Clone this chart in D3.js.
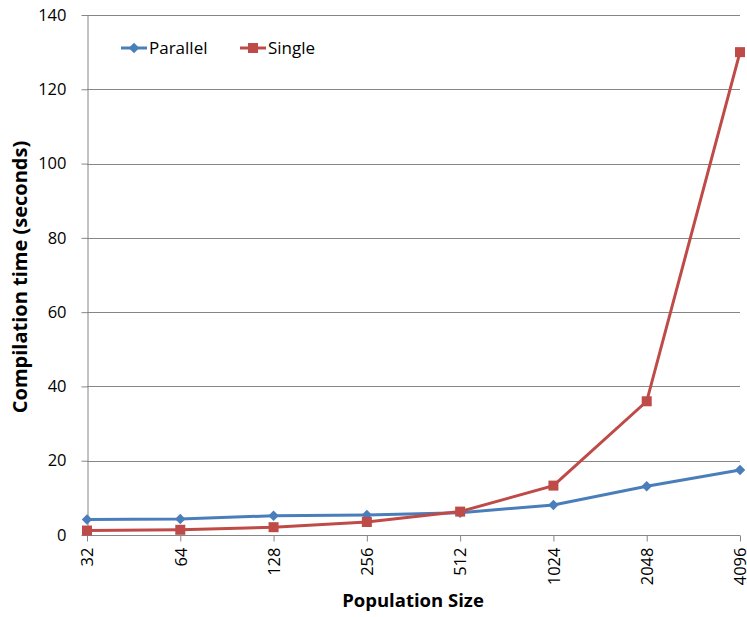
<!DOCTYPE html>
<html>
<head>
<meta charset="utf-8">
<script src="https://cdn.jsdelivr.net/npm/d3@7"></script>
<style>
body { margin:0; background:#fff; }
svg text { font-family: "Open Sans", "Liberation Sans", sans-serif; fill:#000; }
</style>
</head>
<body>
<div id="chart"></div>
<script>
var sizes = ["32", "64", "128", "256", "512", "1024", "2048", "4096"];
var parallel = [4.2, 4.3, 5.2, 5.4, 6.0, 8.1, 13.1, 17.5];
var single = [1.2, 1.4, 2.1, 3.5, 6.3, 13.3, 36.0, 130];
var yTicks = [0, 20, 40, 60, 80, 100, 120, 140];

var width = 747, height = 617;
var padding = {left:87, right:7, top:15, bottom:82};

var svg = d3.select("#chart")
	.append("svg")
	.attr("width", width)
	.attr("height", height);

var xScale = d3.scalePoint()
	.domain(sizes)
	.range([padding.left, width - padding.right]);

var yScale = d3.scaleLinear()
	.domain([0, 140])
	.range([height - padding.bottom, padding.top]);

// grid lines
svg.append("g")
	.selectAll("line")
	.data(yTicks.slice(1))
	.enter()
	.append("line")
	.attr("x1", padding.left)
	.attr("x2", width - padding.right)
	.attr("y1", function(d){ return Math.round(yScale(d)) + 0.5; })
	.attr("y2", function(d){ return Math.round(yScale(d)) + 0.5; })
	.attr("stroke", "#868686")
	.attr("stroke-width", 1);

var yAxis = d3.axisLeft(yScale)
	.tickValues(yTicks)
	.tickSizeInner(6)
	.tickSizeOuter(0)
	.tickPadding(15);

var yG = svg.append("g")
	.attr("transform", "translate(" + (padding.left + 0.5) + ",0)")
	.call(yAxis);
yG.selectAll("text").style("font-size", "16.5px");
yG.selectAll("line, path").attr("stroke", "#868686");

var xAxis = d3.axisBottom(xScale)
	.tickSizeInner(6)
	.tickSizeOuter(0)
	.tickPadding(0);

var xG = svg.append("g")
	.attr("transform", "translate(0," + (height - padding.bottom + 0.5) + ")")
	.call(xAxis);
xG.select(".domain").attr("d", "M" + padding.left + ",0H" + (width - padding.right));
xG.selectAll("line, path").attr("stroke", "#868686");
xG.selectAll("text")
	.style("font-size", "16.5px")
	.attr("transform", "rotate(-90)")
	.attr("text-anchor", "end")
	.attr("x", -12)
	.attr("y", 0)
	.attr("dy", "0.35em");

// axis titles
svg.append("text")
	.attr("x", 413)
	.attr("y", 607)
	.attr("text-anchor", "middle")
	.style("font-size", "18.5px")
	.style("font-weight", "bold")
	.text("Population Size");

svg.append("text")
	.attr("transform", "translate(27,277) rotate(-90)")
	.attr("text-anchor", "middle")
	.style("font-size", "20px")
	.style("font-weight", "bold")
	.text("Compilation time (seconds)");

var line = d3.line()
	.x(function(d, i){ return xScale(sizes[i]); })
	.y(function(d){ return yScale(d); });

var blue = "#4a7ebb", red = "#be4b48";

svg.append("path")
	.datum(parallel)
	.attr("d", line)
	.attr("fill", "none")
	.attr("stroke", blue)
	.attr("stroke-width", 3);

svg.append("path")
	.datum(single)
	.attr("d", line)
	.attr("fill", "none")
	.attr("stroke", red)
	.attr("stroke-width", 3);

var diamond = d3.symbol().type(d3.symbolDiamond2).size(70);

svg.append("g")
	.selectAll("path")
	.data(parallel)
	.enter()
	.append("path")
	.attr("d", diamond)
	.attr("transform", function(d, i){ return "translate(" + xScale(sizes[i]) + "," + yScale(d) + ")"; })
	.attr("fill", blue);

svg.append("g")
	.selectAll("rect")
	.data(single)
	.enter()
	.append("rect")
	.attr("x", function(d, i){ return xScale(sizes[i]) - 5; })
	.attr("y", function(d){ return yScale(d) - 5; })
	.attr("width", 10)
	.attr("height", 10)
	.attr("fill", red);

// legend
var legend = svg.append("g");
legend.append("line")
	.attr("x1", 121).attr("x2", 147).attr("y1", 48).attr("y2", 48)
	.attr("stroke", blue).attr("stroke-width", 3);
legend.append("path")
	.attr("d", diamond)
	.attr("transform", "translate(134,48)")
	.attr("fill", blue);
legend.append("text")
	.attr("x", 149).attr("y", 48).attr("dy", "0.35em")
	.style("font-size", "17px")
	.text("Parallel");

legend.append("line")
	.attr("x1", 240).attr("x2", 266).attr("y1", 48).attr("y2", 48)
	.attr("stroke", red).attr("stroke-width", 3);
legend.append("rect")
	.attr("x", 248).attr("y", 43).attr("width", 10).attr("height", 10)
	.attr("fill", red);
legend.append("text")
	.attr("x", 268).attr("y", 48).attr("dy", "0.35em")
	.style("font-size", "17px")
	.text("Single");
</script>
</body>
</html>
